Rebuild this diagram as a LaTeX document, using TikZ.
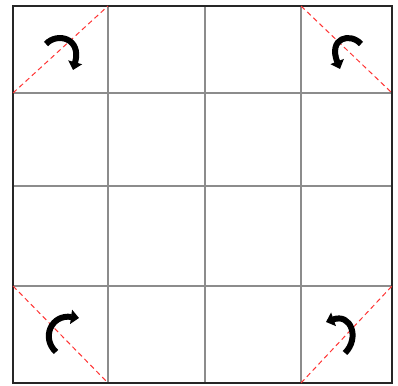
\documentclass[tikz,border=0pt]{standalone}
\usetikzlibrary{arrows.meta}
\begin{document}
\begin{tikzpicture}[x=1pt,y=-1pt,
  gridline/.style={draw=black!45,line width=1.3pt},
  borderline/.style={draw=black!85,line width=1.4pt},
  fold/.style={draw=red!80,line width=1pt,dash pattern=on 5pt off 3.5pt},
  turn/.style={draw=black,line width=6pt,-{Triangle[length=8pt,width=14pt]}}]
\useasboundingbox (0,0) rectangle (398,385);
\fill[white] (0,0) rectangle (398,385);
% grid coordinates
\coordinate (x0y0) at (13,6);
\coordinate (x4y4) at (392,383);
% inner grid
\foreach \x in {108,205,301} \draw[gridline] (\x,6) -- (\x,383);
\foreach \y in {93,186,286} \draw[gridline] (13,\y) -- (392,\y);
\draw[borderline] (x0y0) rectangle (x4y4);
% fold lines
\coordinate (tlA) at (13,93);   \coordinate (tlB) at (108,6);
\coordinate (trA) at (301,6);   \coordinate (trB) at (392,93);
\coordinate (blA) at (13,286);  \coordinate (blB) at (108,383);
\coordinate (brA) at (301,383); \coordinate (brB) at (392,286);
\draw[fold] (tlA) -- (tlB);
\draw[fold] (trA) -- (trB);
\draw[fold] (blA) -- (blB);
\draw[fold] (brA) -- (brB);
% turning arrows
\draw[turn] (46,44) .. controls (57,32) and (82,38) .. (73,70);
\draw[turn] (361,44) .. controls (350,32) and (328,38) .. (340,69);
\draw[turn] (56,352) .. controls (41,338) and (51,314) .. (79,318);
\draw[turn] (345,353) .. controls (360,338) and (351,313) .. (326,322);
\end{tikzpicture}
\end{document}
